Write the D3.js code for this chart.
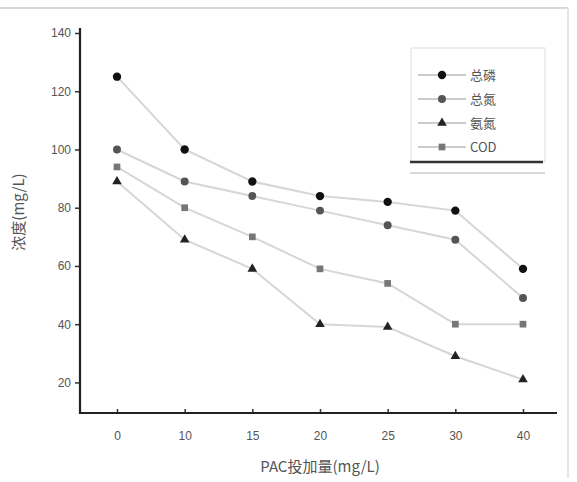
<!DOCTYPE html>
<html>
  <head>
    <title>PAC dosage</title>
    <script src="https://d3js.org/d3.v7.min.js"></script>
  </head>
  <body>
    <div id="root"><svg class="chart" width="577" height="482"></svg></div>
    <script>
// Data
var doses = ["0", "10", "15", "20", "25", "30", "40"];
var seriesNames = ["总磷", "总氮", "氨氮", "COD"];
var seriesA = [125, 100, 89, 84, 82, 79, 59];
var seriesB = [100, 89, 84, 79, 74, 69, 49];
var seriesC = [94, 80, 70, 59, 54, 40, 40];
var seriesD = [89, 69, 59, 40, 39, 29, 21];
var yTicks = [20, 40, 60, 80, 100, 120, 140];

var series = [
  {name: seriesNames[0], values: seriesA, shape: d3.symbolCircle, size: 55, color: "#111"},
  {name: seriesNames[1], values: seriesB, shape: d3.symbolCircle, size: 50, color: "#555"},
  {name: seriesNames[2], values: seriesD, shape: d3.symbolTriangle, size: 40, color: "#222"},
  {name: seriesNames[3], values: seriesC, shape: d3.symbolSquare, size: 45, color: "#777"}
];

var svg = d3.select("svg");

// Frame
svg.append("line").attr("x1", 0).attr("x2", 568).attr("y1", 8).attr("y2", 8)
    .attr("stroke", "#ccc").attr("stroke-width", 1.5);
svg.append("line").attr("x1", 568).attr("x2", 568).attr("y1", 8).attr("y2", 478)
    .attr("stroke", "#ddd").attr("stroke-width", 1.5);

// Scales
var x = d3.scalePoint().domain(doses).range([117, 523]);
var y = d3.scaleLinear().domain([9.5, 140]).range([413, 33]);

// Axes
svg.append("g")
    .attr("class", "axis")
    .attr("transform", "translate(0,413)")
    .call(d3.axisBottom(x).tickSizeInner(-4).tickSizeOuter(0).tickPadding(18));
svg.append("g")
    .attr("class", "axis")
    .attr("transform", "translate(80,0)")
    .call(d3.axisLeft(y).tickValues(yTicks).tickSizeInner(5).tickSizeOuter(0).tickPadding(4));

svg.selectAll(".axis .domain").remove();
svg.append("line").attr("x1", 80).attr("x2", 557).attr("y1", 413).attr("y2", 413)
    .attr("stroke", "#222").attr("stroke-width", 2.2);
svg.append("line").attr("x1", 80).attr("x2", 80).attr("y1", 28).attr("y2", 414)
    .attr("stroke", "#222").attr("stroke-width", 2.2);

// Axis titles
svg.append("text")
    .attr("class", "title")
    .attr("x", 320).attr("y", 472)
    .attr("text-anchor", "middle")
    .text("PAC投加量(mg/L)");
svg.append("text")
    .attr("class", "title")
    .attr("transform", "translate(24,212) rotate(-90)")
    .attr("text-anchor", "middle")
    .text("浓度(mg/L)");

// Lines and markers
var line = d3.line()
    .x(function (d, i) { return x(doses[i]); })
    .y(function (d) { return y(d); });

svg.append("g")
    .selectAll("path")
    .data(series)
    .enter().append("path")
        .attr("d", function (d) { return line(d.values); })
        .attr("fill", "none")
        .attr("stroke", "#d6d6d6")
        .attr("stroke-width", 2);

series.forEach(function (s) {
  svg.append("g")
      .selectAll("path")
      .data(s.values)
      .enter().append("path")
          .attr("transform", function (d, i) { return "translate(" + x(doses[i]) + "," + y(d) + ")"; })
          .attr("d", d3.symbol().type(s.shape).size(s.size))
          .attr("fill", s.color);
});

// Legend
var lg = svg.append("g").attr("class", "legend");
lg.append("rect")
    .attr("x", 411).attr("y", 48).attr("width", 134).attr("height", 114)
    .attr("fill", "#fff").attr("stroke", "#ddd");
lg.append("line").attr("x1", 410).attr("x2", 543).attr("y1", 162).attr("y2", 162)
    .attr("stroke", "#333").attr("stroke-width", 2.5);
lg.append("line").attr("x1", 410).attr("x2", 545).attr("y1", 173).attr("y2", 173)
    .attr("stroke", "#ccc").attr("stroke-width", 1.5);

var item = lg.selectAll(".item")
    .data(series)
    .enter().append("g")
        .attr("transform", function (d, i) { return "translate(0," + (75 + i * 24) + ")"; });
item.append("line")
    .attr("x1", 418).attr("x2", 466)
    .attr("stroke", "#999").attr("stroke-width", 1.2);
item.append("path")
    .attr("transform", "translate(442,0)")
    .attr("d", function (d) { return d3.symbol().type(d.shape).size(d.size)(); })
    .attr("fill", function (d) { return d.color; });
item.append("text")
    .attr("x", 470).attr("y", 5)
    .text(function (d) { return d.name; });
</script>
  </body>
</html>

<style>
  body { margin: 0; background: #fff; }
  .axis text {
      font-size: 12px;
      font-family: "Liberation Sans", sans-serif;
      fill: #555;
  }
  .axis .tick line { stroke: #333; stroke-width: 1.5; }
  .title {
      font-size: 15px;
      font-family: "Noto Sans CJK SC", sans-serif;
      fill: #555;
  }
  .legend text {
      font-size: 13px;
      font-family: "Noto Sans CJK SC", sans-serif;
      fill: #555;
  }
</style>
